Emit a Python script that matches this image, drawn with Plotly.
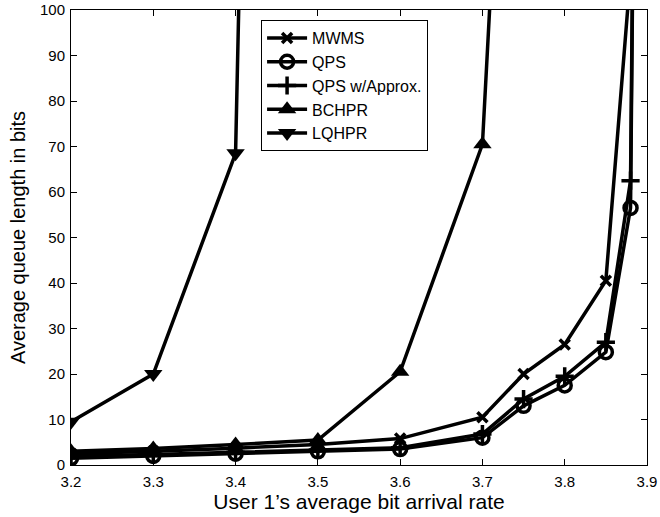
import plotly.graph_objects as go

x_main = [3.2, 3.3, 3.4, 3.5, 3.6, 3.7, 3.75, 3.8, 3.85, 3.88]
x_qps = [3.2, 3.3, 3.4, 3.5, 3.6, 3.7, 3.75, 3.8, 3.85, 3.88, 3.89]
x_bchpr = [3.2, 3.3, 3.4, 3.5, 3.6, 3.7, 3.75]
x_lqhpr = [3.2, 3.3, 3.4, 3.5]

mwms = [2.5, 3.0, 3.7, 4.5, 5.8, 10.5, 20.0, 26.5, 40.5, 108]
qps = [1.5, 2.0, 2.5, 3.0, 3.5, 6.0, 13.0, 17.5, 24.8, 56.5, 250]
qps_approx = [2.0, 2.3, 2.8, 3.3, 3.8, 6.8, 14.5, 19.5, 27.0, 62.5, 250]
bchpr = [3.0, 3.6, 4.5, 5.5, 20.5, 70.5, 240]
lqhpr = [9.5, 20.0, 68.5, 900]

x_ticks = [3.2, 3.3, 3.4, 3.5, 3.6, 3.7, 3.8, 3.9]
y_ticks = [0, 10, 20, 30, 40, 50, 60, 70, 80, 90, 100]

FONT = "Liberation Sans, Arial, sans-serif"

fig = go.Figure()

def add(xs, ys, name, symbol, size, mlw):
    fig.add_trace(go.Scatter(
        x=xs, y=ys, name=name, mode="lines+markers",
        line=dict(color="black", width=3.5),
        marker=dict(symbol=symbol, size=size, color="black",
                    line=dict(color="black", width=mlw)),
        cliponaxis=True,
    ))

add(x_main, mwms, "MWMS", "x-thin-open", 10, 3.5)
add(x_qps, qps, "QPS", "circle-open", 13, 3.5)
add(x_qps, qps_approx, "QPS w/Approx.", "cross-thin-open", 13, 3.5)
add(x_bchpr, bchpr, "BCHPR", "triangle-up", 16, 0)
add(x_lqhpr, lqhpr, "LQHPR", "triangle-down", 16, 0)

axis_common = dict(
    showline=True, linecolor="black", linewidth=1, mirror="ticks",
    ticks="inside", ticklen=6, tickcolor="black", tickwidth=1,
    showgrid=False, zeroline=False, automargin=False,
    tickfont=dict(family=FONT, size=15, color="black"),
)

fig.update_layout(
    width=660, height=517,
    margin=dict(l=71, r=13, t=10, b=52),
    paper_bgcolor="white", plot_bgcolor="white",
    font=dict(family=FONT, color="black"),
    xaxis=dict(range=[3.2, 3.9], tickvals=x_ticks,
               ticktext=[f"{v:.1f}" for v in x_ticks],
               ticklabelstandoff=3,
               title=dict(text="User 1\u2019s average bit arrival rate",
                          font=dict(family=FONT, size=21), standoff=1),
               **axis_common),
    yaxis=dict(range=[0, 100], tickvals=y_ticks,
               ticklabelstandoff=2,
               title=dict(text="Average queue length in bits",
                          font=dict(family=FONT, size=20), standoff=8),
               **axis_common),
    legend=dict(x=0.330, y=0.978, xanchor="left", yanchor="top",
                bordercolor="black", borderwidth=1, bgcolor="white",
                font=dict(family=FONT, size=16, color="black"),
                tracegroupgap=0, itemwidth=40),
    showlegend=True,
)

fig.write_html("out.html")
